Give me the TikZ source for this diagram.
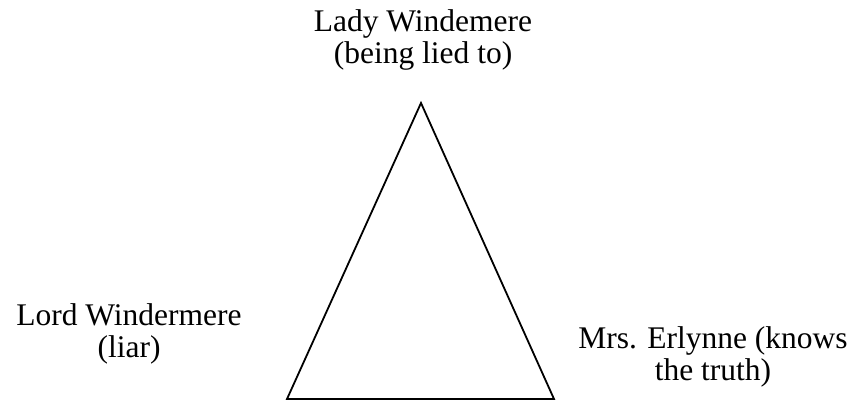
\documentclass[tikz,border=0pt]{standalone}
\usepackage{fontspec}
\setmainfont{Liberation Serif}

\begin{document}
\begin{tikzpicture}[line cap=round,line join=miter,x=1pt,y=1pt,
    role/.style={align=center,anchor=base,inner sep=0pt,font=\fontsize{31.5}{32}\selectfont}]

    \useasboundingbox (0,0) rectangle (859,402);

    \coordinate (W) at (421,299);
    \coordinate (L) at (287,3);
    \coordinate (E) at (554,3);

    % labels, anchored at the baseline of their last line
    \node[role] (lady) at (423,338) {Lady Windemere\\(being lied to)};
    \node[role] (lord) at (129,45) {Lord Windermere\\(liar)};
    \node[role] (mrs) at (713,22) {Mrs. Erlynne (knows\\the truth)};

    % Triangle
    \draw[line width=1.8pt] (W) -- (L) -- (E) -- cycle;
\end{tikzpicture}
\end{document}
